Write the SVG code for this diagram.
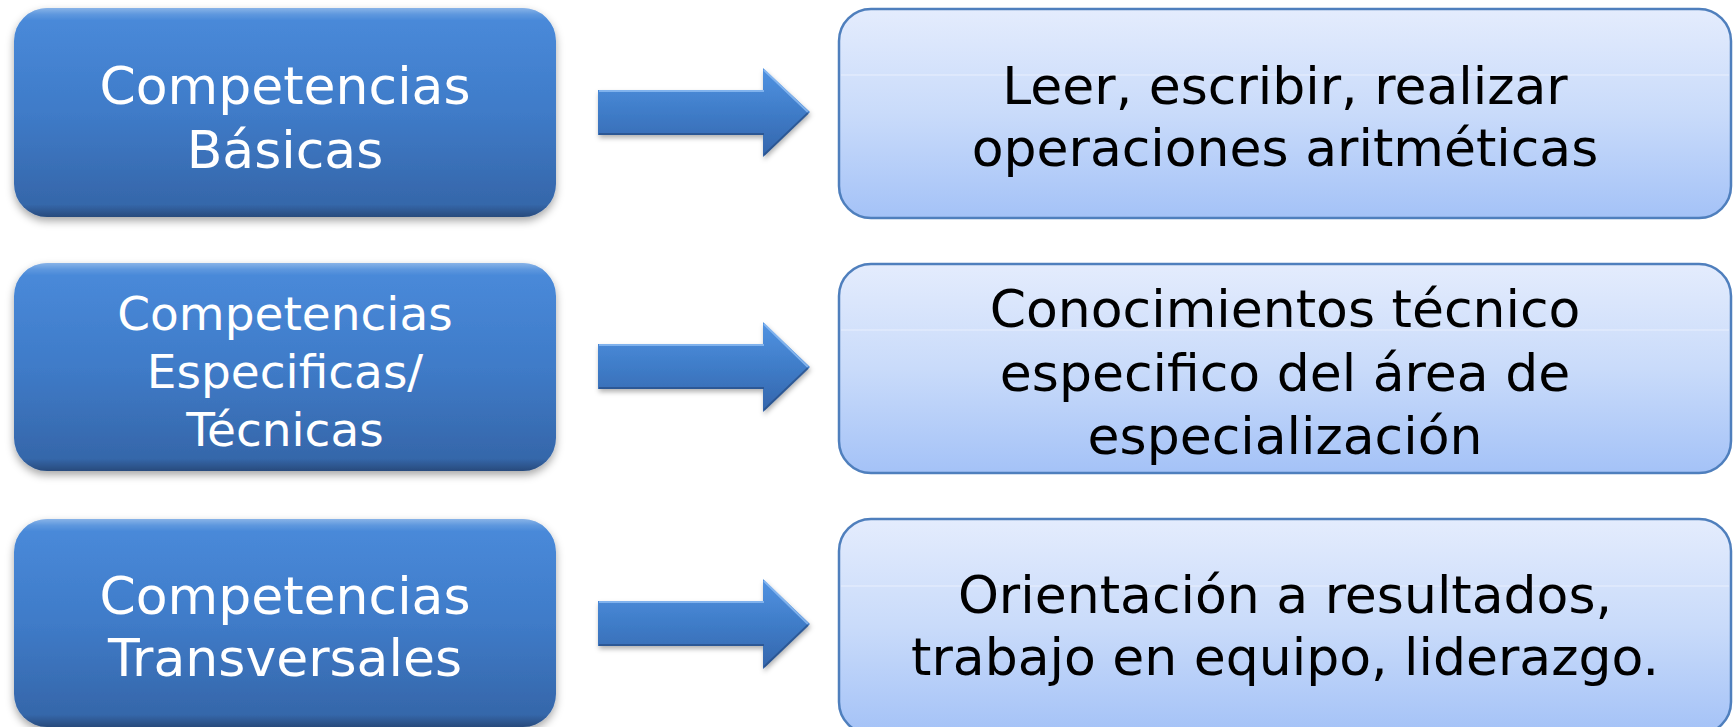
<svg xmlns="http://www.w3.org/2000/svg" width="1733" height="727" viewBox="0 0 1733 727">
  <defs>
    <linearGradient id="lb" x1="0" y1="0" x2="0" y2="1">
      <stop offset="0" stop-color="#4a8bdb"/>
      <stop offset="0.5" stop-color="#3f7bc8"/>
      <stop offset="1" stop-color="#3464a6"/>
    </linearGradient>
    <linearGradient id="lbBevel" x1="0" y1="0" x2="0" y2="1">
      <stop offset="0" stop-color="#ffffff" stop-opacity="0.35"/>
      <stop offset="0.03" stop-color="#ffffff" stop-opacity="0.12"/>
      <stop offset="0.06" stop-color="#ffffff" stop-opacity="0"/>
      <stop offset="0.94" stop-color="#000000" stop-opacity="0"/>
      <stop offset="1" stop-color="#000000" stop-opacity="0.25"/>
    </linearGradient>
    <linearGradient id="rb" x1="0" y1="0" x2="0" y2="1">
      <stop offset="0" stop-color="#e4ecfd"/>
      <stop offset="0.5" stop-color="#c9dbfa"/>
      <stop offset="1" stop-color="#a4c2f7"/>
    </linearGradient>
    <linearGradient id="ag" x1="0" y1="0" x2="0" y2="1">
      <stop offset="0" stop-color="#5193e2"/>
      <stop offset="0.5" stop-color="#3f7cc8"/>
      <stop offset="1" stop-color="#3465ab"/>
    </linearGradient>
    <filter id="sh" x="-10%" y="-10%" width="120%" height="130%">
      <feDropShadow dx="0" dy="4" stdDeviation="4" flood-color="#000" flood-opacity="0.35"/>
    </filter>
    <filter id="ash" x="-10%" y="-20%" width="120%" height="150%">
      <feDropShadow dx="1" dy="3" stdDeviation="2.5" flood-color="#000" flood-opacity="0.3"/>
    </filter>
  </defs>
  <style>
    .lbox { fill: url(#lb); filter: url(#sh); }
    .lbev { fill: url(#lbBevel); }
    .rbox { fill: url(#rb); stroke: #4f7fbd; stroke-width: 2.5; }
    .glass { stroke: #ffffff; stroke-opacity: 0.5; stroke-width: 1.2; }
    .lt { font-family: "DejaVu Sans", Verdana, sans-serif; fill: #ffffff; text-anchor: middle; }
    .rt { font-family: "DejaVu Sans", Verdana, sans-serif; fill: #000000; text-anchor: middle; font-size: 52px; }
    .arrow { fill: url(#ag); filter: url(#ash); }
    .ahi { fill: none; stroke: #8fbdf2; stroke-width: 2; stroke-opacity: 0.8; }
    .alo { fill: none; stroke: #264d85; stroke-width: 2; stroke-opacity: 0.7; }
  </style>

  <g id="node-basicas">
    <rect class="lbox" x="14" y="8" width="542" height="209" rx="33"/>
    <rect class="lbev" x="14" y="8" width="542" height="209" rx="33"/>
    <text class="lt" font-size="52" x="285" y="104">Competencias</text>
    <text class="lt" font-size="52" x="285" y="168">Básicas</text>
  </g>

  <g id="node-especificas">
    <rect class="lbox" x="14" y="263" width="542" height="208" rx="33"/>
    <rect class="lbev" x="14" y="263" width="542" height="208" rx="33"/>
    <text class="lt" font-size="47" x="285" y="330">Competencias</text>
    <text class="lt" font-size="47" x="285" y="388">Especificas/</text>
    <text class="lt" font-size="47" x="285" y="446">Técnicas</text>
  </g>

  <g id="node-transversales">
    <rect class="lbox" x="14" y="519" width="542" height="208" rx="33"/>
    <rect class="lbev" x="14" y="519" width="542" height="208" rx="33"/>
    <text class="lt" font-size="52" x="285" y="614">Competencias</text>
    <text class="lt" font-size="52" x="285" y="676">Transversales</text>
  </g>

  <g id="node-leer">
    <rect class="rbox" x="839" y="9" width="892" height="209" rx="32"/>
    <line class="glass" x1="841" y1="75" x2="1729" y2="75"/>
    <text class="rt" x="1285" y="104">Leer, escribir, realizar</text>
    <text class="rt" x="1285" y="166">operaciones aritméticas</text>
  </g>

  <g id="node-conocimientos">
    <rect class="rbox" x="839" y="264" width="892" height="209" rx="32"/>
    <line class="glass" x1="841" y1="330" x2="1729" y2="330"/>
    <text class="rt" x="1285" y="327">Conocimientos técnico</text>
    <text class="rt" x="1285" y="391">especifico del área de</text>
    <text class="rt" x="1285" y="454">especialización</text>
  </g>

  <g id="node-orientacion">
    <rect class="rbox" x="839" y="519" width="892" height="215" rx="32"/>
    <line class="glass" x1="841" y1="586" x2="1729" y2="586"/>
    <text class="rt" x="1285" y="613">Orientación a resultados,</text>
    <text class="rt" x="1285" y="675">trabajo en equipo, liderazgo.</text>
  </g>

  <g id="connectors">
    <g id="arrow-1">
      <path class="arrow" d="M598,90 H763 V68 L810,112 L763,157 V135 H598 Z"/>
      <path class="ahi" d="M599,91 H764 M764,70 L808,112"/>
      <path class="alo" d="M599,134 H764 M764,155 L808,113"/>
    </g>
    <g id="arrow-2">
      <path class="arrow" d="M598,344 H763 V322 L810,367 L763,412 V389 H598 Z"/>
      <path class="ahi" d="M599,345 H764 M764,324 L808,367"/>
      <path class="alo" d="M599,388 H764 M764,410 L808,368"/>
    </g>
    <g id="arrow-3">
      <path class="arrow" d="M598,601 H763 V579 L810,624 L763,669 V646 H598 Z"/>
      <path class="ahi" d="M599,602 H764 M764,581 L808,624"/>
      <path class="alo" d="M599,645 H764 M764,667 L808,625"/>
    </g>
  </g>
</svg>
